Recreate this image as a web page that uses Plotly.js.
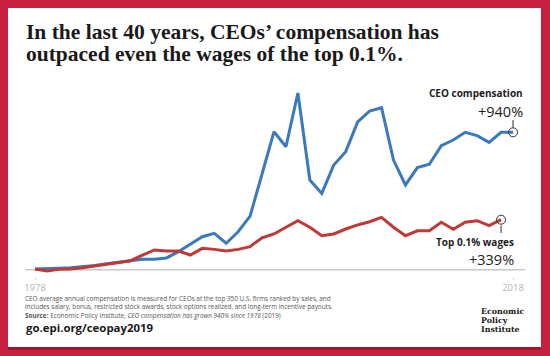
<!DOCTYPE html>
<html>
<head>
<meta charset="utf-8">
<script src="https://cdn.plot.ly/plotly-3.0.1.min.js"></script>
<style>
  html, body { margin: 0; padding: 0; background: #c8203f; }
  #chart { width: 550px; height: 356px; }
</style>
</head>
<body>
<div id="chart"></div>
<script>
// ---- Data (cumulative % change since 1978) ----
const years = [1978,1979,1980,1981,1982,1983,1984,1985,1986,1987,1988,1989,1990,
  1991,1992,1993,1994,1995,1996,1997,1998,1999,2000,2001,2002,2003,2004,2005,
  2006,2007,2008,2009,2010,2011,2012,2013,2014,2015,2016,2017,2018];
const ceoComp = [0,1,5,9,16,25,36,46,57,67,67,76,119,
  172,222,245,177,256,364,653,944,841,1210,612,520,715,807,1011,
  1086,1109,749,578,697,720,848,887,940,917,871,940,940];
const wageYears = years.slice(0, 40); // wages series ends in 2017
const top01Wages = [0,-14,-2,0,9,21,34,46,57,96,131,124,124,
  96,142,135,124,135,154,215,241,287,332,287,229,241,275,303,
  325,355,287,229,263,263,321,273,321,332,298,339];
const tickYears = [1978, 2018];
const tickLabels = ['1978', '2018'];
const ceoLabel = 'CEO compensation';
const ceoChange = '+940%';
const wageLabel = 'Top 0.1% wages';
const wageChange = '+339%';

// ---- Layout helpers (pixel -> paper) ----
const L = 25, R = 525, T = 85, B = 277, W = 550, H = 356;
const px = X => (X - L) / (R - L);
const py = Y => (B - Y) / (B - T);

const blue = '#3b79bf';
const red = '#bf3a37';
const sans = 'Open Sans, sans-serif';

const traces = [
  { x: years, y: ceoComp, type: 'scatter', mode: 'lines', name: ceoLabel,
    line: { color: blue, width: 3 }, hoverinfo: 'skip' },
  { x: wageYears, y: top01Wages, type: 'scatter', mode: 'lines', name: wageLabel,
    line: { color: red, width: 3 }, hoverinfo: 'skip' },
  { x: [years[years.length-1], wageYears[wageYears.length-1]],
    y: [ceoComp[ceoComp.length-1], top01Wages[top01Wages.length-1]],
    type: 'scatter', mode: 'markers', hoverinfo: 'skip',
    marker: { symbol: 'circle', size: 9, color: 'rgba(0,0,0,0)', line: { color: '#333', width: 1 } } }
];

function txt(text, X, Y, size, opts) {
  return Object.assign({
    text: text, xref: 'paper', yref: 'paper', x: px(X), y: py(Y),
    xanchor: 'left', yanchor: 'middle', showarrow: false, align: 'left',
    font: { family: sans, size: size, color: '#222' }
  }, opts || {});
}

const serifTitle = { family: 'Liberation Serif, serif', size: 21.5, color: '#1a1a1a', weight: 700 };
const logoFont = { family: 'DejaVu Serif, serif', size: 7.9, color: '#1a1a1a', weight: 700 };

const annotations = [
  txt('In the last 40 years, CEOs\u2019 compensation has', 24, 31.7, 21.5, { font: serifTitle }),
  txt('outpaced even the wages of the top 0.1%.', 24, 54.2, 21.5, { font: serifTitle }),
  txt(ceoLabel, 525, 93, 10, { xanchor: 'right', font: { family: sans, size: 10, color: '#222', weight: 700 } }),
  txt(ceoChange, 525, 111, 14.5, { xanchor: 'right', font: { family: sans, size: 14.5, color: '#222' } }),
  txt(wageLabel, 516, 242, 10, { xanchor: 'right', font: { family: sans, size: 10, color: '#222', weight: 700 } }),
  txt(wageChange, 516, 259.5, 14.5, { xanchor: 'right', font: { family: sans, size: 14.5, color: '#222' } }),
  txt('CEO average annual compensation is measured for CEOs at the top 350 U.S. firms ranked by sales, and<br>' +
      'includes salary, bonus, restricted stock awards, stock options realized, and long-term incentive payouts.<br>' +
      '<b>Source:</b> Economic Policy Institute, <i>CEO compensation has grown 940% since 1978</i> (2019)',
      23, 306.5, 6.4, { font: { family: sans, size: 6.4, color: '#555' } }),
  txt('go.epi.org/ceopay2019', 24, 327.5, 11.4, { font: { family: sans, size: 11.4, color: '#1a1a1a', weight: 700 } }),
  txt('Economic', 479, 311.2, 7.9, { font: logoFont }),
  txt('Policy', 479, 320.4, 7.9, { font: logoFont }),
  txt('Institute', 479, 329.6, 7.9, { font: logoFont })
];

const shapes = [
  // shadow + white card
  { type: 'rect', xref: 'paper', yref: 'paper', x0: px(8), x1: px(541), y0: py(350), y1: py(8),
    fillcolor: '#a5152f', line: { width: 0 }, layer: 'below' },
  { type: 'rect', xref: 'paper', yref: 'paper', x0: px(8), x1: px(541), y0: py(347), y1: py(8),
    fillcolor: '#ffffff', line: { width: 0 }, layer: 'below' },
  // baseline
  { type: 'line', xref: 'paper', yref: 'y', x0: 0, x1: 1, y0: -5, y1: -5,
    line: { color: '#c9c9c9', width: 1.5 }, layer: 'below' },
  // leader ticks to end markers
  { type: 'line', xref: 'x', yref: 'paper', x0: years[years.length-1], x1: years[years.length-1],
    y0: py(120), y1: py(127.5), line: { color: '#333', width: 1 } },
  { type: 'line', xref: 'x', yref: 'paper', x0: wageYears[wageYears.length-1], x1: wageYears[wageYears.length-1],
    y0: py(225.5), y1: py(233), line: { color: '#333', width: 1 } }
];

const layout = {
  width: W, height: H,
  margin: { l: L, r: W - R, t: T, b: H - B, pad: 0 },
  paper_bgcolor: '#c8203f',
  plot_bgcolor: 'rgba(0,0,0,0)',
  showlegend: false,
  xaxis: {
    range: [1977.163, 2019.004], tickvals: tickYears, ticktext: tickLabels,
    ticks: 'outside', ticklen: 2, tickwidth: 1, tickcolor: '#d0d0d0',
    tickfont: { family: sans, size: 9.5, color: '#b4b4b4' },
    showgrid: false, zeroline: false, showline: false, fixedrange: true
  },
  yaxis: { range: [-55, 1265.2], visible: false, showgrid: false, zeroline: false, fixedrange: true },
  annotations: annotations,
  shapes: shapes
};

Plotly.newPlot('chart', traces, layout, { displayModeBar: false, staticPlot: true });
</script>
</body>
</html>
